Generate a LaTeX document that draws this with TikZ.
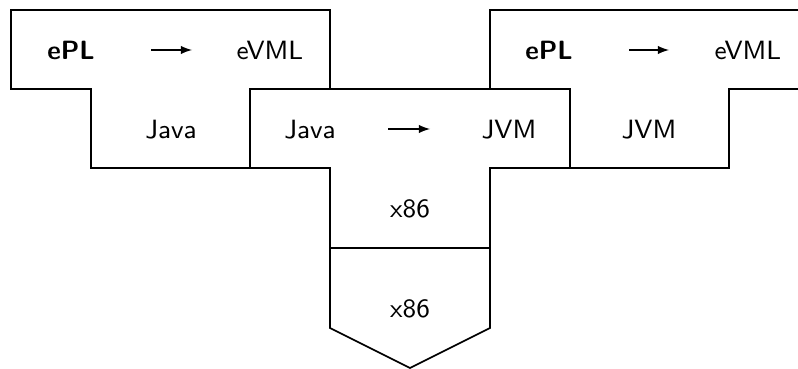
\documentclass[tikz,border=0pt]{standalone}
\usetikzlibrary{arrows}
\begin{document}
\begin{tikzpicture}[x=0.0125cm,y=-0.0125cm,
  blk/.style={draw=black,line width=0.6pt,line join=miter},
  lbl/.style={font=\sffamily\fontsize{9.4}{11}\selectfont,anchor=base,inner sep=0pt},
  bl/.style={lbl,font=\sffamily\bfseries\fontsize{9.4}{11}\selectfont},
  arr/.style={-latex,line width=0.4pt}]
\useasboundingbox (0,0) rectangle (798,369);
% left T
\draw[blk] (11,10) -- (330,10) -- (330,89) -- (250,89) -- (250,168) -- (91,168) -- (91,89) -- (11,89) -- cycle;
% right T
\draw[blk] (490,10) -- (809,10) -- (809,89) -- (729,89) -- (729,168) -- (570,168) -- (570,89) -- (490,89) -- cycle;
% middle T
\draw[blk] (250,89) -- (570,89) -- (570,168) -- (490,168) -- (490,248) -- (330,248) -- (330,168) -- (250,168) -- cycle;
% machine
\draw[blk] (330,248) -- (490,248) -- (490,328) -- (410,368) -- (330,328) -- cycle;
% labels
\node[bl]  (l1) at (71,60) {ePL};
\node[lbl] (l2) at (270,60) {eVML};
\node[lbl] (l3) at (171,139) {Java};
\node[lbl] (m1) at (310,139) {Java};
\node[lbl] (m2) at (509,139) {JVM};
\node[lbl] (m3) at (410,218) {x86};
\node[bl]  (r1) at (549,60) {ePL};
\node[lbl] (r2) at (748,60) {eVML};
\node[lbl] (r3) at (649,139) {JVM};
\node[lbl] (x1) at (410,318) {x86};
% arrows
\coordinate (a1s) at (151,50); \coordinate (a1e) at (192,50);
\coordinate (a2s) at (388,129); \coordinate (a2e) at (430,129);
\coordinate (a3s) at (629,50); \coordinate (a3e) at (669,50);
\draw[arr] (a1s) -- (a1e);
\draw[arr] (a2s) -- (a2e);
\draw[arr] (a3s) -- (a3e);
\end{tikzpicture}
\end{document}
